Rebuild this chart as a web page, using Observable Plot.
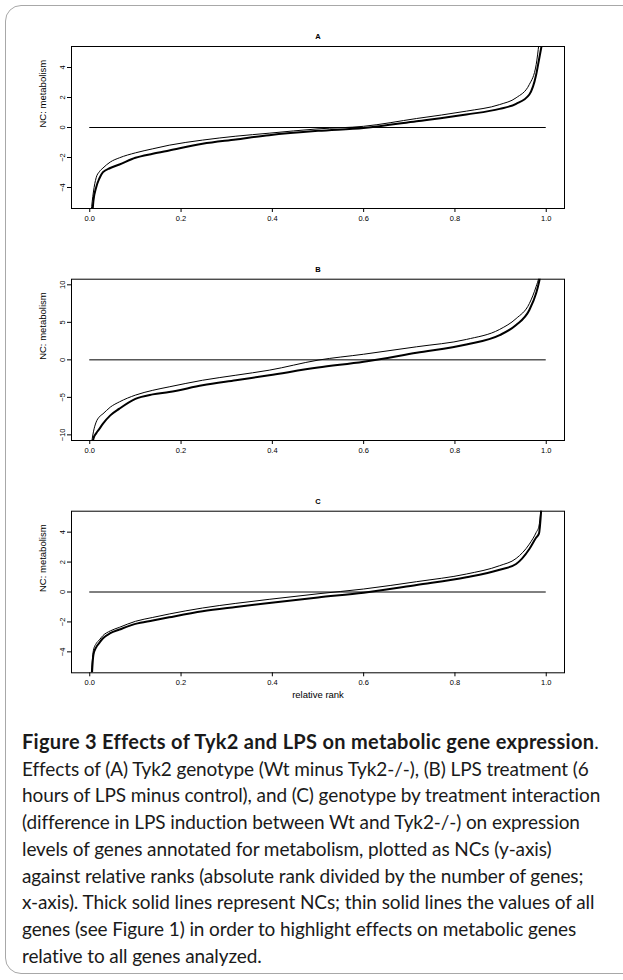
<!DOCTYPE html>
<html>
<head>
<meta charset="utf-8">
<script src="https://cdn.jsdelivr.net/npm/d3@7"></script>
<script src="https://cdn.jsdelivr.net/npm/@observablehq/plot@0.6"></script>
<style>
  html, body { margin: 0; padding: 0; background: #fff; width: 623px; height: 980px; overflow: hidden; }
  #wrap { position: relative; width: 623px; height: 980px; }
  #border { position: absolute; left: 5px; top: 5px; width: 660px; height: 969px; border: 1.5px solid #a8a8a8; border-radius: 16px; box-sizing: border-box; }
  .panel { position: absolute; left: 0; }
  #caption { position: absolute; left: 22px; top: 728px; font-family: "Lato", "Open Sans", sans-serif; font-size: 19px; letter-spacing: -0.1px; line-height: 26.7px; color: #1a1a1a; }
  #caption div { white-space: nowrap; }
  #caption b { font-weight: 700; font-size: 20px; letter-spacing: 0.3px; }
</style>
</head>
<body>
<div id="wrap">
  <div id="border"></div>
  <div id="pA" class="panel" style="top:0px"></div>
  <div id="pB" class="panel" style="top:232px"></div>
  <div id="pC" class="panel" style="top:464px"></div>
  <div id="caption">
    <div><b>Figure 3 Effects of Tyk2 and LPS on metabolic gene expression</b>.</div>
    <div>Effects of (A) Tyk2 genotype (Wt minus Tyk2-/-), (B) LPS treatment (6</div>
    <div>hours of LPS minus control), and (C) genotype by treatment interaction</div>
    <div>(difference in LPS induction between Wt and Tyk2-/-) on expression</div>
    <div>levels of genes annotated for metabolism, plotted as NCs (y-axis)</div>
    <div>against relative ranks (absolute rank divided by the number of genes;</div>
    <div>x-axis). Thick solid lines represent NCs; thin solid lines the values of all</div>
    <div>genes (see Figure 1) in order to highlight effects on metabolic genes</div>
    <div>relative to all genes analyzed.</div>
  </div>
</div>
<script>
// relative rank grid (shared by all curves)
const ranks = [0.003, 0.008, 0.014, 0.021, 0.029, 0.045, 0.065, 0.1, 0.138, 0.174, 0.247, 0.32, 0.393, 0.5, 0.6, 0.716, 0.825, 0.898, 0.934, 0.963, 0.978, 0.984, 0.992];

// Panel A: Tyk2 genotype
const thinA  = [-5.6, -4.3, -3.35, -2.95, -2.7, -2.3, -2.02, -1.69, -1.42, -1.18, -0.84, -0.58, -0.38, -0.09, 0.08, 0.6, 1.09, 1.53, 1.98, 2.87, 4.2, 5.6, 8];
const thickA = [-7, -4.9, -4.0, -3.4, -2.98, -2.7, -2.47, -2.02, -1.75, -1.53, -1.09, -0.8, -0.51, -0.22, -0.03, 0.42, 0.87, 1.24, 1.58, 2.2, 3.53, 4.5, 5.8];

// Panel B: LPS treatment
const thinB  = [-11.5, -9.6, -8.3, -7.6, -7.19, -6.3, -5.6, -4.7, -4.06, -3.6, -2.72, -2.05, -1.38, -0.04, 0.75, 1.74, 2.72, 4.06, 5.5, 7.5, 9.8, 11, 14];
const thickB = [-13, -10.5, -9.8, -9.2, -8.5, -7.4, -6.5, -5.2, -4.6, -4.29, -3.4, -2.72, -2.05, -1.03, -0.25, 0.94, 2.05, 3.3, 4.64, 6.65, 8.9, 10.3, 13];

// Panel C: genotype x treatment interaction
const thinC  = [-5.6, -3.9, -3.45, -3.2, -2.91, -2.6, -2.36, -1.96, -1.7, -1.47, -1.07, -0.76, -0.49, -0.12, 0.2, 0.69, 1.2, 1.76, 2.24, 3.2, 3.98, 4.4, 7];
const thickC = [-6.5, -4.2, -3.7, -3.4, -3.09, -2.75, -2.51, -2.13, -1.9, -1.69, -1.29, -1.0, -0.73, -0.36, -0.05, 0.47, 0.98, 1.49, 1.87, 2.87, 3.64, 3.9, 7];

const xTicks = [0, 0.2, 0.4, 0.6, 0.8, 1.0];
const yTicksA = [-4, -2, 0, 2, 4];
const yTicksB = [-10, -5, 0, 5, 10];
const yTicksC = [-4, -2, 0, 2, 4];

const font = "'Liberation Sans', Arial, Helvetica, sans-serif";

function panel(title, thin, thick, yDom, yTicks, mTop, height, mBottom, xLabel) {
  const thinData = ranks.map((r, i) => ({r, v: thin[i]}));
  const thickData = ranks.map((r, i) => ({r, v: thick[i]}));
  const marks = [
    Plot.ruleY([0], {x1: 0, x2: 1, stroke: "#000", strokeWidth: 1}),
    Plot.line(thinData, {x: "r", y: "v", stroke: "#000", strokeWidth: 1, curve: "monotone-x", clip: true}),
    Plot.line(thickData, {x: "r", y: "v", stroke: "#000", strokeWidth: 2, curve: "monotone-x", clip: true}),
    Plot.frame({stroke: "#000", strokeWidth: 1}),
    Plot.axisX({ticks: xTicks, tickSize: 4, tickPadding: 3, fontSize: 7.5, tickFormat: d3.format(".1f"), label: null}),
    Plot.axisY({ticks: yTicks, tickSize: 4, tickPadding: 3, fontSize: 7.5, tickRotate: -90, label: null}),
    Plot.text([title], {frameAnchor: "top", dy: -13, fontWeight: "bold", fontSize: 7.5}),
    Plot.text(["NC: metabolism"], {frameAnchor: "left", dx: -28.5, rotate: -90, fontSize: 9.5})
  ];
  if (xLabel) marks.push(Plot.text([xLabel], {frameAnchor: "bottom", dy: 25, fontSize: 9.5}));
  return Plot.plot({
    width: 623, height, marginLeft: 71, marginRight: 59, marginTop: mTop, marginBottom: mBottom,
    x: {domain: [-0.04, 1.04]},
    y: {domain: yDom},
    style: {fontFamily: font, background: "transparent", color: "#000", overflow: "visible"},
    marks
  });
}

document.getElementById("pA").append(panel("A", thinA, thickA, [-5.4, 5.4], yTicksA, 46, 232, 24));
document.getElementById("pB").append(panel("B", thinB, thickB, [-10.75, 10.75], yTicksB, 46.7, 232, 24));
document.getElementById("pC").append(panel("C", thinC, thickC, [-5.4, 5.4], yTicksC, 46.7, 250, 41.7, "relative rank"));
</script>
</body>
</html>
